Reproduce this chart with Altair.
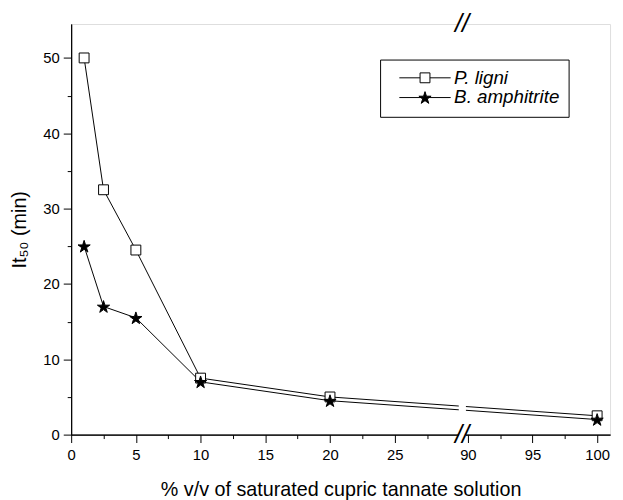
import altair as alt
import pandas as pd

# ---- data ----
series_names = ["P. ligni", "B. amphitrite"]
x_vals = [1, 2.5, 5, 10, 20, 100]
p_ligni = [50, 32.5, 24.5, 7.5, 5, 2.5]
b_amphitrite = [25, 17, 15.5, 7, 4.5, 2]

x_major = [0, 5, 10, 15, 20, 25, 90, 95, 100]
x_minor = [2.5, 7.5, 12.5, 17.5, 22.5, 27.5, 92.5, 97.5]
y_major = [0, 10, 20, 30, 40, 50]
y_minor = [5, 15, 25, 35, 45]

x_title = "% v/v of saturated cupric tannate solution"
y_title = "It₅₀ (min)"

# axis break (left part ends at 30.2, right part starts at 89.7)
x_domain = [0, 30.2, 89.7, 101]
x_range = [0, 396, 398, 546]
y_domain = [0, 54.5]

line_keys = [n + " (line)" for n in series_names]

rows = []
for name, key, vals in zip(series_names, line_keys, [p_ligni, b_amphitrite]):
    for xv, yv in zip(x_vals, vals):
        rows.append({"series": name, "linekey": key, "x": xv, "y": yv})
df = pd.DataFrame(rows)

gap_df = pd.DataFrame({"x1": [29.95], "x2": [89.85], "y1": [-0.4], "y2": [55.5]})
slash_df = pd.DataFrame({"x": [30.2, 30.2], "y": [0, 54.5], "t": ["//", "//"]})

FONT = "Liberation Sans"
STAR = ("M0,-1.2L0.2918,-0.2776L1.2364,-0.2776L0.4723,0.2776L0.7641,1.1759"
        "L0,0.6207L-0.7641,1.1759L-0.4723,0.2776L-1.2364,-0.2776L-0.2918,-0.2776Z")
LEG_LINE = "M-5.2,0H5.2"

xscale = alt.Scale(domain=x_domain, range=x_range, nice=False, zero=False)
yscale = alt.Scale(domain=y_domain, nice=False, zero=False)

ax_common = dict(domainColor="black", tickColor="black", grid=False,
                 labelFont=FONT, labelFontSize=15, labelColor="black",
                 labelFlush=False, labelOverlap=False)

x_axis = alt.Axis(
    orient="bottom", values=x_major, format="d", tickSize=8, labelPadding=5,
    title=x_title, titleFont=FONT, titleFontSize=20, titleFontWeight="normal",
    titleColor="black", titleY=62, titleBaseline="alphabetic", **ax_common,
)
y_axis = alt.Axis(
    orient="left", values=y_major, format="d", tickSize=8, labelPadding=4,
    title=y_title, titleFont=FONT, titleFontSize=20, titleFontWeight="normal",
    titleColor="black", titleX=-52, titleY=208, titleAngle=270, titleBaseline="middle",
    **ax_common,
)
x_axis_minor = alt.Axis(orient="bottom", values=x_minor, tickSize=4, labels=False,
                        title=None, **ax_common)
y_axis_minor = alt.Axis(orient="left", values=y_minor, tickSize=4, labels=False,
                        title=None, **ax_common)

leg_common = dict(
    orient="none", legendX=313, legendY=36, title=None,
    labelFont=FONT, labelFontSize=19, labelFontStyle="italic",
    padding=9, rowPadding=0, symbolSize=100, symbolOffset=27, labelOffset=20,
    symbolStrokeWidth=1,
)

lines = alt.Chart(df).mark_line(strokeWidth=1).encode(
    x=alt.X("x:Q", scale=xscale, axis=x_axis),
    y=alt.Y("y:Q", scale=yscale, axis=y_axis),
    color=alt.Color(
        "linekey:N",
        scale=alt.Scale(domain=line_keys, range=["black", "black"]),
        legend=alt.Legend(symbolType=LEG_LINE, labelColor="rgba(0,0,0,0)",
                          symbolStrokeColor="black", **leg_common),
    ),
    order="x:Q",
)

gap = alt.Chart(gap_df).mark_rect(color="white").encode(
    x=alt.X("x1:Q", axis=x_axis_minor), x2="x2",
    y=alt.Y("y1:Q", axis=y_axis_minor), y2="y2",
)

shape_legend = alt.Legend(labelColor="black", strokeColor="black", symbolStrokeColor="black",
                          **leg_common)
points = alt.Chart(df).mark_point(filled=True, strokeWidth=1, size=100, opacity=1).encode(
    x=alt.X("x:Q", axis=None),
    y=alt.Y("y:Q", axis=None),
    shape=alt.Shape("series:N", scale=alt.Scale(domain=series_names, range=["square", STAR]),
                    legend=shape_legend),
    fill=alt.Fill("series:N", scale=alt.Scale(domain=series_names, range=["white", "black"]),
                  legend=shape_legend),
    stroke=alt.Stroke("series:N", scale=alt.Scale(domain=series_names, range=["black", "black"]),
                      legend=shape_legend),
)

slashes = alt.Chart(slash_df).mark_text(font=FONT, fontSize=26, fontStyle="italic", color="black",
                                       baseline="middle", align="center").encode(
    x=alt.X("x:Q", axis=None), y=alt.Y("y:Q", axis=None), text="t:N"
)

chart = alt.layer(lines, gap, points, slashes).resolve_axis(
    x="independent", y="independent"
).properties(
    width=546, height=416,
    padding={"left": 64, "top": 13, "right": 5, "bottom": 63},
    autosize=alt.AutoSizeParams(type="none"),
).configure_view(stroke="black", strokeWidth=1).configure(background="white")

chart.save("out.html", embed_options={"renderer": "svg", "actions": False})
